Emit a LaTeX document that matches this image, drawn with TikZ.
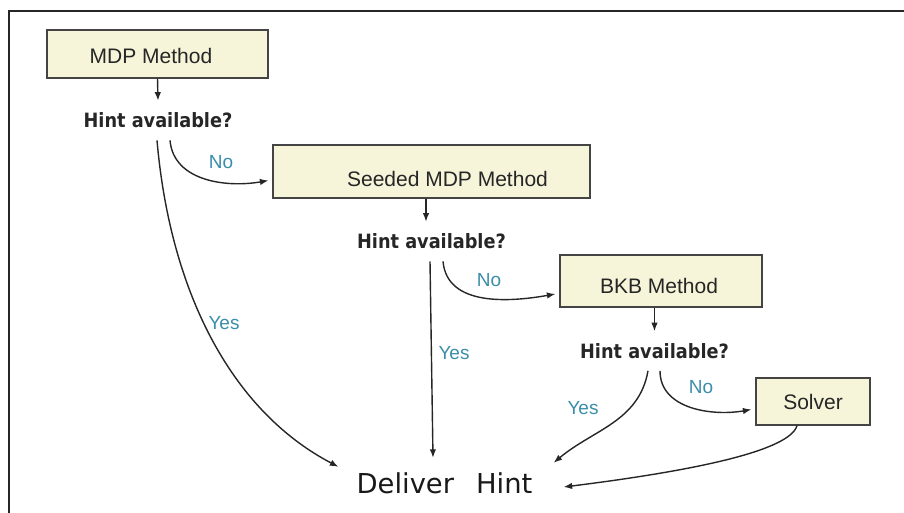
\documentclass[tikz,border=0pt]{standalone}
\usepackage{fontspec}
\usepackage{tikz}
\usepackage{xcolor}
\setmainfont{Liberation Sans}
\newfontfamily\askfont{DejaVu Sans Condensed}
\newfontfamily\deliverfont{DejaVu Sans}
\usetikzlibrary{arrows.meta}
\definecolor{boxfill}{HTML}{F6F5DA}
\definecolor{boxline}{HTML}{444444}
\definecolor{answer}{HTML}{3A8EA8}

\begin{document}
\begin{tikzpicture}[x=1pt,y=1pt,
	box/.style={draw=boxline,line width=1.2pt,fill=boxfill,inner sep=0pt,text depth=0pt,font=\fontsize{21}{24}\selectfont,text=black!85},
	ask/.style={inner xsep=2pt,inner ysep=12pt,font=\askfont\bfseries\fontsize{19.7}{22}\selectfont,text=black!85},
	ans/.style={text=answer,font=\fontsize{19}{22}\selectfont},
	arr/.style={line width=1.4pt,black!85,-{Latex[length=8.5pt,width=6.5pt]}}]
			\useasboundingbox (0,0) rectangle (904,-513);
			\draw[line width=2pt,black!85] (8.5,-513) -- (8.5,-11) -- (904,-11);
			\node[box,minimum width=221,minimum height=48,text height=19.3pt] (mdp) at (157.5,-54) {MDP Method\hspace*{13pt}};
			\node[box,minimum width=317,minimum height=53,text height=29.3pt] (seeded) at (431.5,-171.5) {\hspace*{32pt}Seeded MDP Method};
			\node[box,minimum width=202,minimum height=52,text height=25.3pt] (bkb) at (661,-281) {BKB Method\hspace*{4pt}};
			\node[box,minimum width=114,minimum height=47,text height=16.2pt] (solver) at (813,-401.5) {Solver};
			\node[ask] (hinta) at (158,-120.5) {Hint available?};
			\node[ask] (hintb) at (431.5,-241.5) {Hint available?};
			\node[ask] (hintc) at (654.5,-351) {Hint available?};
			\node[inner sep=0pt,font=\deliverfont\fontsize{27.4}{30}\selectfont,text=black!90] (deliver) at (444.5,-483.6) {Deliver\hspace{22pt}Hint};
			\draw[arr] (mdp.south) -- (hinta.north);
			\draw[arr] ([xshift=-5.5]seeded.south) -- ([xshift=-5.5]hintb.north);
			\draw[arr] (bkb.south -| hintc.north) -- (hintc.north);
			\draw[arr] ([xshift=12]hinta.south) to[out=-85,in=190] ([shift={(-4,-9)}]seeded.west);
			\draw[arr] ([xshift=-1]hinta.south) .. controls (170,-290) and (230,-410) .. ([shift={(-18,6)}]deliver.north west);
			\draw[arr] ([xshift=11.5]hintb.south) to[out=-85,in=190] ([shift={(-4,-13)}]bkb.west);
			\draw[arr] ([xshift=-1.5]hintb.south) -- ([shift={(-11.5,15)}]deliver.north);
			\draw[arr] ([xshift=5.5]hintc.south) to[out=-90,in=190] ([shift={(-4,-8)}]solver.west);
			\draw[arr] ([xshift=-6.5]hintc.south) to[out=-100,in=40] ([shift={(21,10)}]deliver.north east);
			\draw[arr] ([xshift=-16]solver.south) .. controls (790,-450) and (700,-470) .. ([shift={(31,-3.4)}]deliver.east);
			\node[ans] (noa) at (221,-162) {No};
			\node[ans] (yesa) at (224,-323) {Yes};
			\node[ans] (nob) at (489,-280) {No};
			\node[ans] (yesb) at (454,-353) {Yes};
			\node[ans] (noc) at (701,-387) {No};
			\node[ans] (yesc) at (583,-408) {Yes};
		\end{tikzpicture}
\end{document}
